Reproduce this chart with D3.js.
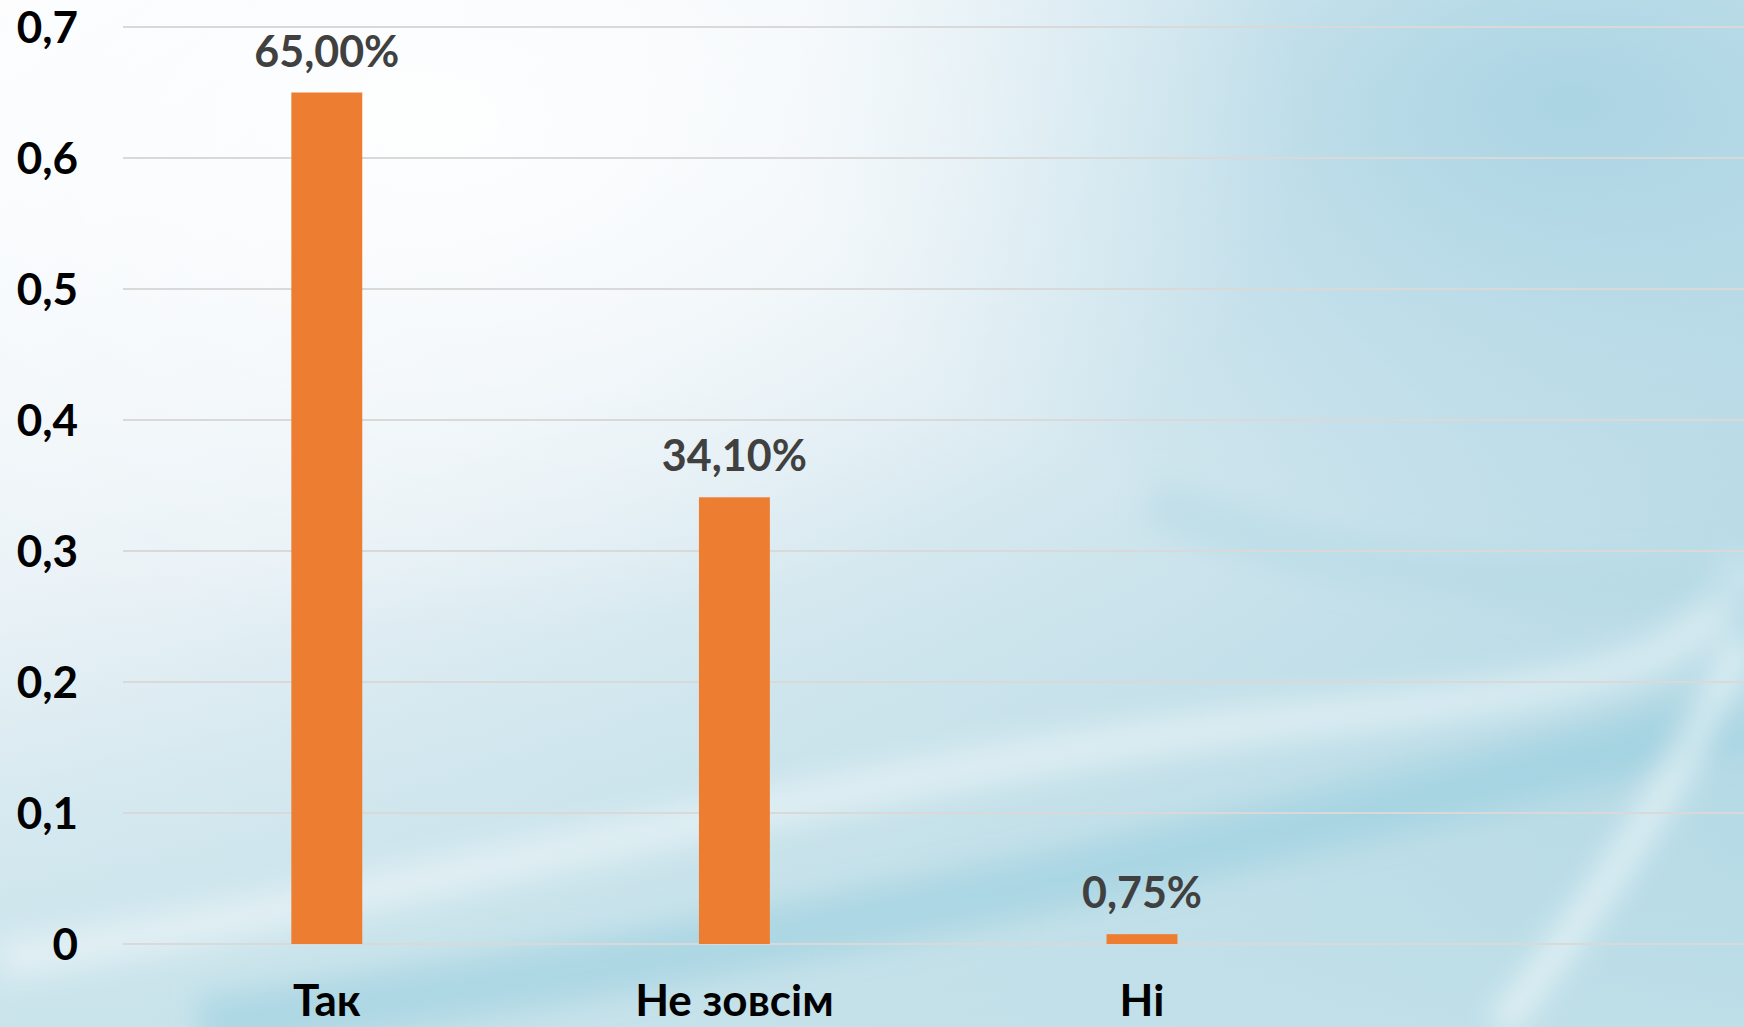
<!DOCTYPE html>
<html>
<head>
<meta charset="utf-8">
<script src="https://cdn.jsdelivr.net/npm/d3@7"></script>
<style>
  html, body { margin: 0; padding: 0; overflow: hidden; }
  svg { display: block; }
</style>
</head>
<body>
<svg class="chart" width="1744" height="1027"></svg>
<script>
// data
const categories = ["Так", "Не зовсім", "Ні"];
const values = [0.65, 0.341, 0.0075];
const valueLabels = ["65,00%", "34,10%", "0,75%"];
const yTicks = [0, 0.1, 0.2, 0.3, 0.4, 0.5, 0.6, 0.7];
const yTickLabels = ["0", "0,1", "0,2", "0,3", "0,4", "0,5", "0,6", "0,7"];

const width = 1744;
const height = 1027;
const svg = d3.select(".chart");
const defs = svg.append("defs");

// background gradient
const bg = defs.append("linearGradient")
  .attr("id", "bg")
  .attr("x1", "0").attr("y1", "0")
  .attr("x2", "1").attr("y2", "1");
bg.append("stop").attr("offset", "0").attr("stop-color", "#fbfcfe");
bg.append("stop").attr("offset", "0.35").attr("stop-color", "#e8f1f6");
bg.append("stop").attr("offset", "0.7").attr("stop-color", "#c2dfe9");
bg.append("stop").attr("offset", "1").attr("stop-color", "#9fd0e0");

const glow = defs.append("radialGradient")
  .attr("id", "glow")
  .attr("cx", "0.25").attr("cy", "0.12").attr("r", "0.5");
glow.append("stop").attr("offset", "0").attr("stop-color", "#ffffff").attr("stop-opacity", 0.9);
glow.append("stop").attr("offset", "1").attr("stop-color", "#ffffff").attr("stop-opacity", 0);

const blueRight = defs.append("radialGradient")
  .attr("id", "blueRight")
  .attr("cx", "0.9").attr("cy", "0.1").attr("r", "0.45");
blueRight.append("stop").attr("offset", "0").attr("stop-color", "#a6d2e2").attr("stop-opacity", 0.9);
blueRight.append("stop").attr("offset", "1").attr("stop-color", "#a6d2e2").attr("stop-opacity", 0);

const blueBottom = defs.append("linearGradient")
  .attr("id", "blueBottom")
  .attr("x1", "0").attr("y1", "0")
  .attr("x2", "0").attr("y2", "1");
blueBottom.append("stop").attr("offset", "0.55").attr("stop-color", "#c6e2ea").attr("stop-opacity", 0);
blueBottom.append("stop").attr("offset", "1").attr("stop-color", "#c6e2ea").attr("stop-opacity", 0.8);

defs.append("filter").attr("id", "blur")
  .attr("x", "-20%").attr("y", "-20%").attr("width", "140%").attr("height", "140%")
  .append("feGaussianBlur").attr("stdDeviation", 14);

svg.append("rect").attr("width", width).attr("height", height).attr("fill", "url(#bg)");
svg.append("rect").attr("width", width).attr("height", height).attr("fill", "url(#blueRight)");
svg.append("rect").attr("width", width).attr("height", height).attr("fill", "url(#glow)");
svg.append("rect").attr("width", width).attr("height", height).attr("fill", "url(#blueBottom)");

// soft swooshes
const swoosh = svg.append("g").attr("filter", "url(#blur)").attr("fill", "none");
swoosh.append("path")
  .attr("d", "M0,960 C400,900 900,760 1300,720 S1700,640 1744,560")
  .attr("stroke", "#ffffff").attr("stroke-opacity", 0.4).attr("stroke-width", 40);
swoosh.append("path")
  .attr("d", "M200,1027 C700,960 1100,880 1744,720")
  .attr("stroke", "#8fcadc").attr("stroke-opacity", 0.45).attr("stroke-width", 60);
swoosh.append("path")
  .attr("d", "M1500,1027 C1600,900 1680,780 1744,640")
  .attr("stroke", "#ffffff").attr("stroke-opacity", 0.5).attr("stroke-width", 30);
swoosh.append("path")
  .attr("d", "M1150,500 C1300,560 1500,600 1744,580")
  .attr("stroke", "#b3d9e6").attr("stroke-opacity", 0.5).attr("stroke-width", 50);

// scales
const plotLeft = 123;
const step = 407.6;
const xScale = d3.scaleBand()
  .domain(categories)
  .range([plotLeft, plotLeft + step * categories.length])
  .paddingInner(0.826)
  .paddingOuter(0.413);
const yScale = d3.scaleLinear().domain([0, 0.7]).range([944, 27]);

// gridlines
svg.append("g")
  .selectAll("line")
  .data(yTicks)
  .enter()
  .append("line")
  .attr("x1", plotLeft)
  .attr("x2", width)
  .attr("y1", function (d) { return yScale(d); })
  .attr("y2", function (d) { return yScale(d); })
  .attr("stroke", "#d9d9d9")
  .attr("stroke-width", 2);

// y axis labels
svg.append("g")
  .selectAll("text")
  .data(yTicks)
  .enter()
  .append("text")
  .attr("x", 78)
  .attr("y", function (d) { return yScale(d); })
  .attr("dy", "0.36em")
  .attr("text-anchor", "end")
  .style("font-family", "Lato, 'Open Sans', sans-serif")
  .style("font-weight", "bold")
  .style("font-size", "44px")
  .style("fill", "#000")
  .text(function (d, i) { return yTickLabels[i]; });

// bars
svg.append("g")
  .selectAll("rect")
  .data(values)
  .enter()
  .append("rect")
  .attr("x", function (d, i) { return xScale(categories[i]); })
  .attr("y", function (d) { return yScale(d); })
  .attr("width", xScale.bandwidth())
  .attr("height", function (d) { return yScale(0) - yScale(d); })
  .attr("fill", "#ed7d31");

// value labels
svg.append("g")
  .selectAll("text")
  .data(values)
  .enter()
  .append("text")
  .attr("x", function (d, i) { return xScale(categories[i]) + xScale.bandwidth() / 2; })
  .attr("y", function (d) { return yScale(d) - 26; })
  .attr("text-anchor", "middle")
  .style("font-family", "Lato, 'Open Sans', sans-serif")
  .style("font-weight", "bold")
  .style("font-size", "43px")
  .style("fill", "#404040")
  .text(function (d, i) { return valueLabels[i]; });

// category labels
svg.append("g")
  .selectAll("text")
  .data(categories)
  .enter()
  .append("text")
  .attr("x", function (d) { return xScale(d) + xScale.bandwidth() / 2; })
  .attr("y", 1016)
  .attr("text-anchor", "middle")
  .style("font-family", "Lato, 'Open Sans', sans-serif")
  .style("font-weight", "bold")
  .style("font-size", "44px")
  .style("fill", "#000")
  .text(function (d) { return d; });
</script>
</body>
</html>
